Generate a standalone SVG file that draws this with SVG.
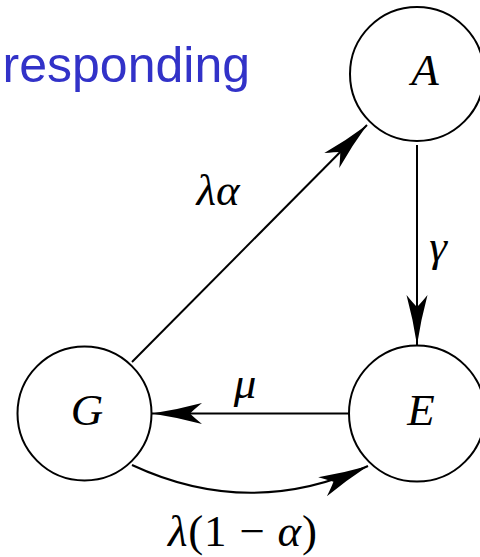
<svg xmlns="http://www.w3.org/2000/svg" width="480" height="557" viewBox="0 0 480 557">
<style>
.node{fill:#fff;stroke:#000;stroke-width:2}
.edge{fill:none;stroke:#000;stroke-width:2}
.m{font-family:"Liberation Serif","DejaVu Serif",serif;font-style:italic;font-size:45px;fill:#000}
.up{font-style:normal}
.title{font-family:"Liberation Sans",Arial,sans-serif;font-size:50px;fill:#3232c8}
</style>
<defs>
<marker id="arr" markerUnits="userSpaceOnUse" viewBox="-52 -12 54 24" markerWidth="54" markerHeight="24" refX="0" refY="0" orient="auto">
<path d="M0,0 Q-26,-4 -50,-10.5 Q-42,-4 -38,0 Q-42,4 -50,10.5 Q-26,4 0,0 Z" fill="#000"/>
</marker>
</defs>
<text class="title" x="250" y="82" text-anchor="end">responding</text>
<g id="edges">
<line class="edge" x1="132" y1="362" x2="367" y2="125" marker-end="url(#arr)"/>
<line class="edge" x1="417" y1="145" x2="417" y2="345" marker-end="url(#arr)"/>
<line class="edge" x1="350" y1="413.5" x2="152" y2="413.5" marker-end="url(#arr)"/>
<path class="edge" d="M132,465 Q250,520 368,466" marker-end="url(#arr)"/>
<text class="m" x="218" y="205" text-anchor="middle">λα</text>
<text class="m" x="438" y="261" text-anchor="middle">γ</text>
<text class="m" x="245" y="398" text-anchor="middle">μ</text>
<text class="m" x="168" y="546" textLength="149" lengthAdjust="spacing">λ<tspan class="up">(1 − </tspan>α<tspan class="up">)</tspan></text>
</g>
<g id="A"><circle class="node" cx="417" cy="74" r="67"/><text class="m" x="425" y="85" text-anchor="middle">A</text></g>
<g id="E"><circle class="node" cx="417" cy="413.5" r="68"/><text class="m" x="421" y="425" text-anchor="middle">E</text></g>
<g id="G"><circle class="node" cx="84.5" cy="413.5" r="67"/><text class="m" x="87" y="425" text-anchor="middle">G</text></g>
</svg>
